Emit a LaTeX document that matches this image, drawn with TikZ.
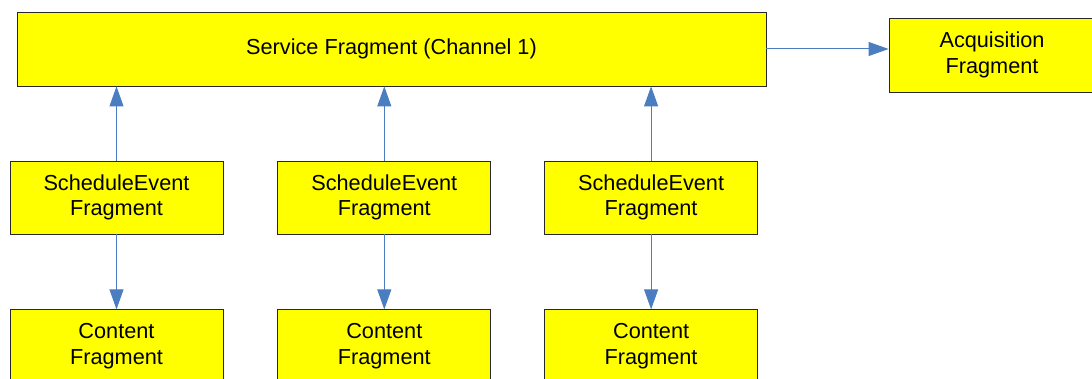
\documentclass[tikz,border=0pt]{standalone}
\usepackage{fontspec}
\setmainfont{Liberation Sans}
\usepackage{tikz}
\usetikzlibrary{positioning,arrows.meta}
\definecolor{fragyellow}{RGB}{255,255,0}
\definecolor{fragedge}{RGB}{40,40,40}
\definecolor{linkblue}{RGB}{74,126,192}

\begin{document}
\begin{tikzpicture}
[x=1pt, y=-1pt,
fragbox/.style={rectangle, draw=fragedge, fill=fragyellow, line width=0.8pt, align=center, inner sep=0pt, minimum width=213pt, minimum height=73pt, font=\fontsize{21.7}{25.5}\selectfont},
svcbox/.style={fragbox, minimum width=749pt, minimum height=74pt},
acqbox/.style={fragbox, minimum width=206pt, minimum height=74pt},
link/.style={draw=linkblue, line width=1pt, -{Triangle[length=20pt, width=14pt, fill=linkblue]}},
]
\useasboundingbox (0,0) rectangle (1092,379);
\node[svcbox]	(svc) at (391.5,49) {Service Fragment (Channel 1)};
\node[acqbox]	(acq) at (992,55) {Acquisition\\Fragment};
\node[fragbox]	(se1) at (116.5,197.5) {ScheduleEvent\\Fragment};
\node[fragbox]	(se2) [right=54pt of se1] {ScheduleEvent\\Fragment};
\node[fragbox]	(se3) [right=53pt of se2] {ScheduleEvent\\Fragment};
\node[fragbox]	(ct1) [below=75pt of se1] {Content\\Fragment};
\node[fragbox]	(ct2) [below=75pt of se2] {Content\\Fragment};
\node[fragbox]	(ct3) [below=75pt of se3] {Content\\Fragment};

\draw[link] (svc.east) -- (svc.east -| acq.west);
\draw[link] (se1) -- (se1 |- svc.south);
\draw[link] (se2) -- (se2 |- svc.south);
\draw[link] (se3) -- (se3 |- svc.south);
\draw[link] (se1) -- (ct1);
\draw[link] (se2) -- (ct2);
\draw[link] (se3) -- (ct3);
\end{tikzpicture}
\end{document}
